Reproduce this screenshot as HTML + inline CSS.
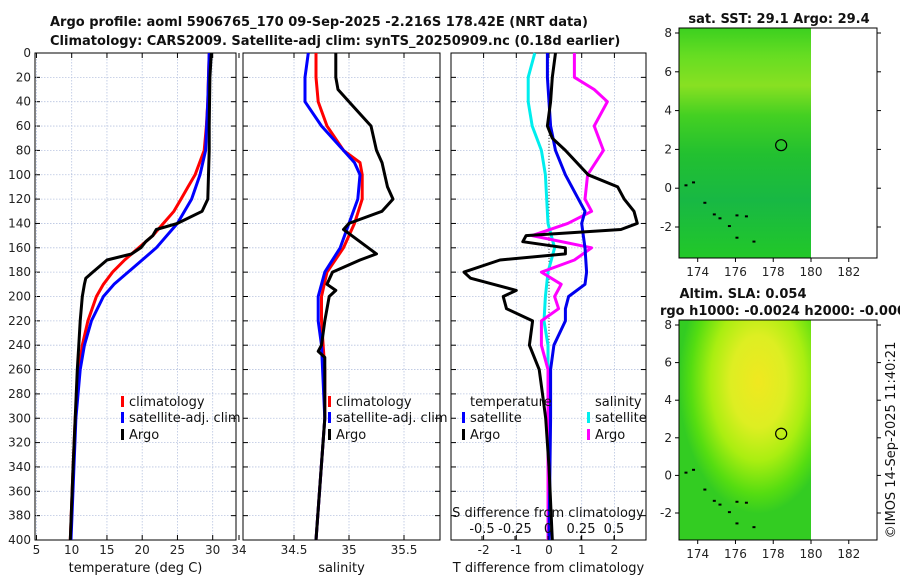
<!DOCTYPE html>
<html><head><meta charset="utf-8">
<style>
body{margin:0;background:#fff;}
svg{display:block;font-family:"DejaVu Sans","Liberation Sans",sans-serif;}
.tk{font-size:12px;fill:#222;}
.lg{font-size:13px;fill:#111;}
.ti{font-size:13px;font-weight:bold;fill:#111;}
</style></head>
<body>
<svg id="c" width="900" height="580" viewBox="0 0 900 580">
<defs>
<linearGradient id="sst" x1="0" y1="0" x2="0" y2="1">
<stop offset="0" stop-color="#3cd020"/><stop offset="0.12" stop-color="#66dd22"/><stop offset="0.25" stop-color="#88e022"/><stop offset="0.38" stop-color="#44d022"/><stop offset="0.55" stop-color="#22c030"/><stop offset="0.75" stop-color="#18b844"/><stop offset="1" stop-color="#22c828"/>
</linearGradient>
<radialGradient id="sla" cx="0.6" cy="0.28" r="0.6">
<stop offset="0" stop-color="#f0e820"/><stop offset="0.35" stop-color="#ddee22"/><stop offset="0.6" stop-color="#aaee11"/><stop offset="0.85" stop-color="#55dd11"/><stop offset="1" stop-color="#33cc22"/>
</radialGradient>
</defs>
<text class="ti" x="50" y="26">Argo profile: aoml 5906765_170 09-Sep-2025 -2.216S 178.42E (NRT data)</text>
<text class="ti" x="50" y="45">Climatology: CARS2009. Satellite-adj clim: synTS_20250909.nc (0.18d earlier)</text>
<g id="g"></g>
</svg>
<script>
// ---- data ----
const tClimD=[0,20,40,60,80,100,110,120,130,140,150,160,170,180,190,200,220,240,260,280,300,340,400];
const tClimV=[29.5,29.4,29.3,29.1,28.8,27.5,26.5,25.5,24.5,23,21.5,19.5,17.5,15.8,14.5,13.5,12.3,11.5,11,10.8,10.5,10.2,9.8];
const tSatD=[0,40,80,100,120,140,160,170,180,190,200,220,240,260,300,400];
const tSatV=[29.5,29.3,29,28.2,27,25,22,20,18,16,14.5,12.8,11.8,11.2,10.6,9.9];
const tArgoD=[0,20,60,80,100,120,130,140,145,150,155,160,165,170,180,185,190,200,220,240,260,300,340,400];
const tArgoV=[29.8,29.6,29.5,29.5,29.4,29.3,28.5,25,22,21.5,20.5,19.8,18.5,15,13,12,11.8,11.5,11.2,11,10.8,10.5,10.2,9.8];
const sClimD=[0,20,40,60,80,90,100,120,140,160,180,200,220,260,300,400];
const sClimV=[34.7,34.7,34.72,34.8,34.95,35.1,35.12,35.12,35.05,34.95,34.8,34.75,34.75,34.78,34.78,34.7];
const sSatD=[0,20,40,60,80,90,100,120,140,160,180,200,220,240,300,400];
const sSatV=[34.63,34.6,34.6,34.75,34.95,35.05,35.1,35.08,35.0,34.92,34.78,34.72,34.72,34.75,34.78,34.7];
const sArgoD=[0,20,30,40,60,80,90,110,120,130,140,145,155,165,170,180,190,195,200,220,240,245,250,300,400];
const sArgoV=[34.88,34.88,34.9,35.0,35.2,35.25,35.3,35.35,35.4,35.3,35.0,34.95,35.1,35.25,35.1,34.85,34.8,34.88,34.82,34.78,34.75,34.72,34.78,34.78,34.7];
const dTSatD=[0,20,40,60,80,100,120,130,140,150,160,180,190,200,210,220,240,260,300,400];
const dTSatV=[-0.05,-0.05,0,0.05,0.2,0.5,0.9,1.1,1.0,1.05,1.1,1.15,1.1,0.6,0.5,0.5,0.15,0.05,0.05,0];
const dTArgoD=[0,20,40,60,70,80,100,110,120,130,140,145,150,155,160,165,170,180,185,195,200,210,220,240,260,280,300,340,400];
const dTArgoV=[0.2,0.1,0.05,-0.05,0.1,0.5,1.2,2.1,2.3,2.6,2.7,2.2,-0.7,-0.8,0.5,0.5,-1.5,-2.6,-2.4,-1.0,-1.4,-1.3,-0.5,-0.6,-0.3,-0.2,-0.1,0,0.1];
const dSSatD=[0,20,40,60,80,100,140,160,180,200,220,240,400];
const dSSatV=[-0.1,-0.15,-0.15,-0.12,-0.05,-0.02,0,0.05,0,-0.02,-0.03,0,0];
const dSArgoD=[0,20,30,40,60,80,100,120,130,140,150,160,170,180,190,200,210,220,240,260,400];
const dSArgoV=[0.2,0.2,0.35,0.45,0.35,0.42,0.3,0.28,0.33,0.15,-0.12,0.33,0.2,-0.05,0.1,0.05,0.08,-0.05,-0.05,0,0];
const depthTicks=[0,20,40,60,80,100,120,140,160,180,200,220,240,260,280,300,320,340,360,380,400];
const tTicks=[5,10,15,20,25,30];
const sTicks=[34,34.5,35,35.5];
const dTTicks=[-2,-1,0,1,2];
const dSTicks=[-0.5,-0.25,0,0.25,0.5];
const lonTicks=[174,176,178,180,182];
const latTicks=[-2,0,2,4,6,8];
const argoLon=178.42, argoLat=2.216;

const NS='http://www.w3.org/2000/svg';
const G=document.getElementById('g');
function el(t,a,p){const e=document.createElementNS(NS,t);for(const k in a)e.setAttribute(k,a[k]);(p||G).appendChild(e);return e;}
const Y0=53,Y1=540;
const yD=d=>Y0+(d/400)*(Y1-Y0);
function lin(d0,d1,r0,r1){return v=>r0+(v-d0)/(d1-d0)*(r1-r0);}
const panels=[
 {x0:35,x1:236,f:lin(10,30,71.7,212.7),ticks:tTicks,name:'temperature-panel',label:'temperature (deg C)'},
 {x0:243,x1:440,f:lin(34.5,35.5,294,404),ticks:sTicks,name:'salinity-panel',label:'salinity'},
 {x0:451,x1:646,f:lin(-2,2,483.6,614.4),ticks:dTTicks,name:'difference-panel',label:'T difference from climatology'}
];
function line(D,V,f,col,name,w){
 let p='';D.forEach((d,i)=>{p+=(i?'L':'M')+f(V[i]).toFixed(1)+','+yD(d).toFixed(1);});
 const e=el('path',{d:p,fill:'none',stroke:col,'stroke-width':w||3,'stroke-linejoin':'round'});
 
 
}
panels.forEach((P,pi)=>{
 const g=el('g',{});
 
 
 depthTicks.forEach(d=>{
  el('line',{x1:P.x0,x2:P.x1,y1:yD(d),y2:yD(d),stroke:'#b8c4e0','stroke-width':0.8,'stroke-dasharray':'1.5,1.5'},g);
  el('line',{x1:P.x0,x2:P.x0+5,y1:yD(d),y2:yD(d),stroke:'#000'},g);
  el('line',{x1:P.x1,x2:P.x1-5,y1:yD(d),y2:yD(d),stroke:'#000'},g);
  if(pi===0){const t=el('text',{x:P.x0-4,y:yD(d)+4,'text-anchor':'end',class:'tk'},g);t.textContent=d;
   }
 });
 P.ticks.forEach(v=>{const x=P.f(v);
  if(x>P.x0+1&&x<P.x1-1){el('line',{x1:x,x2:x,y1:Y0,y2:Y1,stroke:'#b8c4e0','stroke-width':0.8,'stroke-dasharray':'1.5,1.5'},g);}
  el('line',{x1:x,x2:x,y1:Y1,y2:Y1-5,stroke:'#000'},g);el('line',{x1:x,x2:x,y1:Y0,y2:Y0+5,stroke:'#000'},g);
  const t=el('text',{x:x,y:554,'text-anchor':'middle',class:'tk'},g);t.textContent=v;
  
 });
 el('rect',{x:P.x0,y:Y0,width:P.x1-P.x0,height:Y1-Y0,fill:'none',stroke:'#000','stroke-width':1},g);
 const xl=el('text',{x:(P.x0+P.x1)/2,y:572,'text-anchor':'middle',class:'lg'},g);xl.textContent=P.label;
 
});
const fT=panels[0].f,fS=panels[1].f,fdT=panels[2].f,fdS=lin(-0.5,0.5,482,614);
el('line',{x1:fdT(0),x2:fdT(0),y1:yD(60),y2:yD(400),stroke:'#444','stroke-dasharray':'1,2'});
line(tClimD,tClimV,fT,'#ff0000','temp-climatology-line');
line(tSatD,tSatV,fT,'#0000ff','temp-satellite-line');
line(tArgoD,tArgoV,fT,'#000','temp-argo-line');
line(sClimD,sClimV,fS,'#ff0000','sal-climatology-line');
line(sSatD,sSatV,fS,'#0000ff','sal-satellite-line');
line(sArgoD,sArgoV,fS,'#000','sal-argo-line');
line(dSSatD,dSSatV,fdS,'#00eeee','sdiff-satellite-line');
line(dSArgoD,dSArgoV,fdS,'#ff00ff','sdiff-argo-line');
line(dTSatD,dTSatV,fdT,'#0000ee','tdiff-satellite-line');
line(dTArgoD,dTArgoV,fdT,'#000','tdiff-argo-line');
const st=el('text',{x:548,y:517,'text-anchor':'middle',class:'lg'});st.textContent='S difference from climatology';

dSTicks.forEach(v=>{const t=el('text',{x:fdS(v),y:533,'text-anchor':'middle',class:'lg'});t.textContent=String(v);
 
 el('line',{x1:fdS(v),x2:fdS(v),y1:Y1,y2:Y1-4,stroke:'#000'});});
function leg(x,y,col,txt){const g=el('g',{});
 el('rect',{x:x,y:y-10,width:3,height:11,fill:col},g);const t=el('text',{x:x+8,y:y,class:'lg'},g);t.textContent=txt;}
leg(121,406,'#ff0000','climatology');leg(121,422,'#0000ff','satellite-adj. clim');leg(121,439,'#000','Argo');
leg(328,406,'#ff0000','climatology');leg(328,422,'#0000ff','satellite-adj. clim');leg(328,439,'#000','Argo');
let t=el('text',{x:470,y:406,class:'lg'});t.textContent='temperature';
t=el('text',{x:595,y:406,class:'lg'});t.textContent='salinity';
leg(462,422,'#0000ff','satellite');leg(462,439,'#000','Argo');
leg(587,422,'#00eeee','satellite');leg(587,439,'#ff00ff','Argo');

function mapPanel(top,bot,lat8,latm2,fill,name,titles){
 const g=el('g',{});
 const fx=lin(174,180,697.7,811),fy=lin(8,-2,lat8,latm2);
 el('rect',{x:679,y:top,width:fx(180)-679,height:bot-top,fill:fill},g);
 [[173.3,0.2],[173.7,0.35],[174.3,-0.7],[174.8,-1.3],[175.1,-1.5],[175.6,-1.9],[176,-1.35],[176.5,-1.4],[176,-2.5],[176.9,-2.7]].forEach(p=>{
  el('rect',{x:fx(p[0]),y:fy(p[1]),width:3,height:2,fill:'#000'},g);});
 el('rect',{x:679,y:top,width:877-679,height:bot-top,fill:'none',stroke:'#000'},g);
 lonTicks.forEach(v=>{const x=fx(v);el('line',{x1:x,x2:x,y1:bot,y2:bot+4,stroke:'#000'},g);
  const tt=el('text',{x:x,y:bot+18,'text-anchor':'middle',class:'tk'},g);tt.textContent=v;});
 latTicks.forEach(v=>{const y=fy(v);el('line',{x1:679,x2:675,y1:y,y2:y,stroke:'#000'},g);el('line',{x1:877,x2:881,y1:y,y2:y,stroke:'#000'},g);
  const tt=el('text',{x:672,y:y+4,'text-anchor':'end',class:'tk'},g);tt.textContent=v;});
 const c=el('circle',{cx:fx(argoLon),cy:fy(argoLat),r:5.5,fill:'none',stroke:'#000','stroke-width':1.2},g);
 
 titles.forEach(s=>{const tt=el('text',{x:s[1],y:s[2],'text-anchor':'middle',class:'ti'},g);tt.textContent=s[0];});
}
mapPanel(28,258,33,227,'url(#sst)','sst-map',[['sat. SST: 29.1 Argo: 29.4',779,23]]);
mapPanel(320,540,325,513,'url(#sla)','sla-map',[['Altim. SLA: 0.054',743,298],['rgo h1000: -0.0024 h2000: -0.000',783,315]]);
const cp=el('text',{x:895,y:440,'text-anchor':'middle',class:'lg',transform:'rotate(-90 895 440)'});cp.textContent='©IMOS 14-Sep-2025 11:40:21';

</script>
</body></html>
